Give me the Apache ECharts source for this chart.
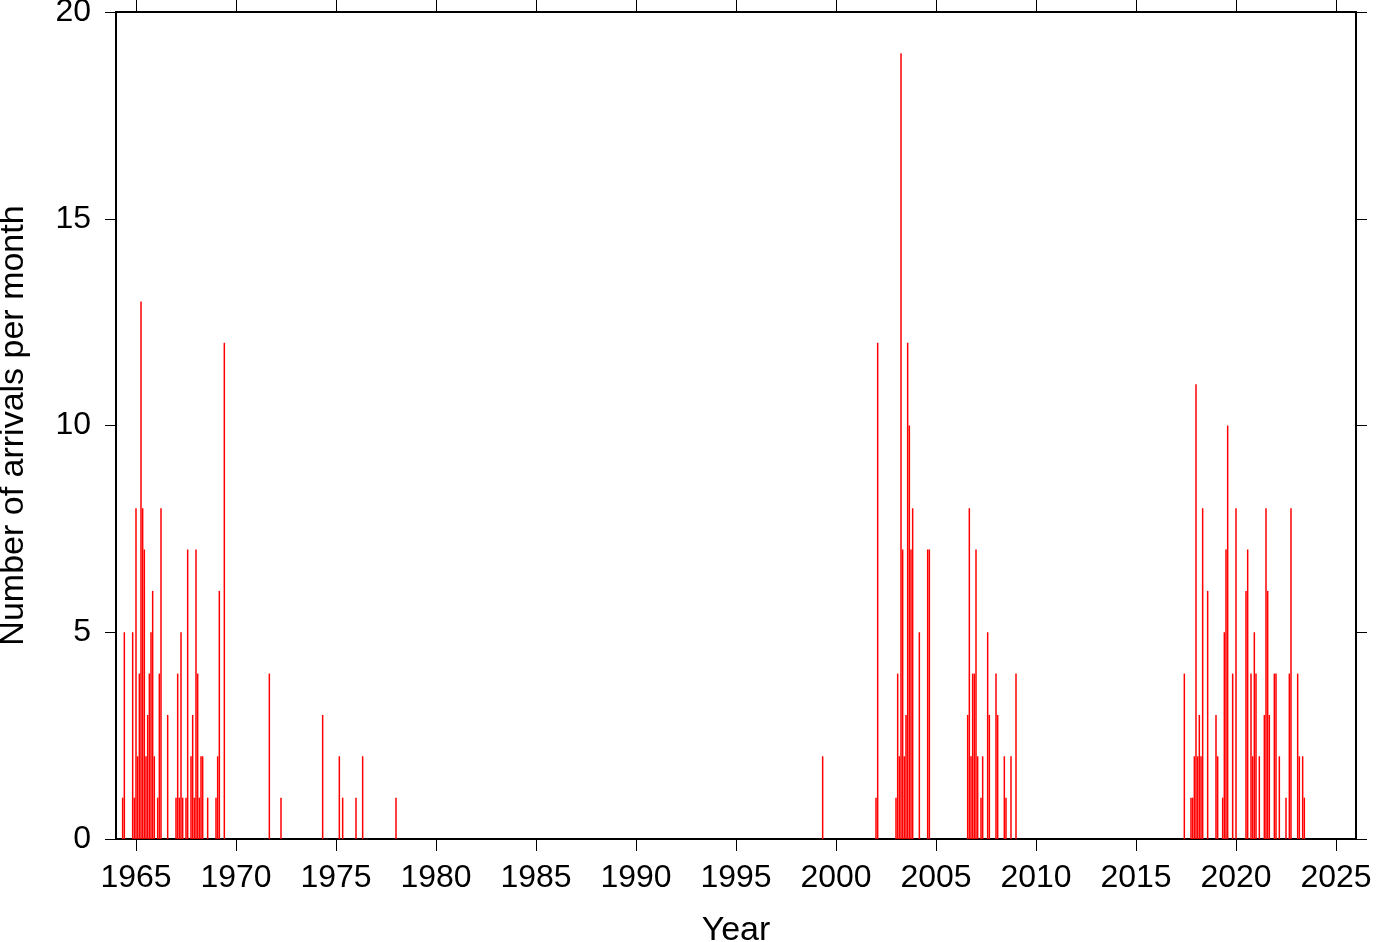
<!DOCTYPE html>
<html>
<head>
<meta charset="utf-8">
<script src="https://cdn.jsdelivr.net/npm/echarts@6/dist/echarts.min.js"></script>
<style>
html,body{margin:0;padding:0;background:#fff;}
#chart{width:1382px;height:942px;}
</style>
</head>
<body>
<div id="chart"></div>
<script>
// Month of arrivals (YYYY-MM) and number of arrivals in that month
const months = [
  "1964-05","1964-06","1964-11","1964-12","1965-01","1965-02","1965-03","1965-04","1965-05","1965-06",
  "1965-07","1965-08","1965-09","1965-10","1965-11","1965-12","1966-02","1966-03","1966-04","1966-08",
  "1967-01","1967-02","1967-03","1967-04","1967-05","1967-07","1967-08","1967-10","1967-11","1967-12",
  "1968-01","1968-02","1968-03","1968-04","1968-05","1968-08","1969-01","1969-02","1969-03","1969-06",
  "1971-09","1972-04","1974-05","1975-03","1975-05","1976-01","1976-05","1978-01",
  "1999-05",
  "2002-01","2002-02","2003-01","2003-02","2003-03","2003-04","2003-05","2003-06","2003-07","2003-08",
  "2003-09","2003-10","2003-11","2004-03","2004-08","2004-09",
  "2006-08","2006-09","2006-10","2006-11","2006-12","2007-01","2007-02","2007-04","2007-05","2007-08",
  "2007-09","2008-01","2008-02","2008-06","2008-07","2008-10","2009-01",
  "2017-06","2017-10","2017-11","2017-12","2018-01","2018-02","2018-03","2018-04","2018-05","2018-08",
  "2019-01","2019-02","2019-05","2019-06","2019-07","2019-08","2019-11","2020-01","2020-07","2020-08",
  "2020-10","2020-11","2020-12","2021-01","2021-03","2021-06","2021-07","2021-08","2021-09","2021-12",
  "2022-01","2022-03","2022-07","2022-09","2022-10","2023-02","2023-03","2023-05","2023-06"
];
const counts = [
  1,5,5,1,8,2,4,13,8,7,
  2,3,4,5,6,2,1,4,8,3,
  1,4,1,5,1,1,7,2,3,1,
  7,4,1,2,2,1,1,2,6,12,
  4,1,3,2,1,1,2,1,
  2,
  1,12,1,4,2,19,7,2,3,12,
  10,7,8,5,7,7,
  3,8,2,4,4,7,2,1,2,5,
  3,4,3,2,1,2,4,
  4,1,1,2,11,2,3,2,8,6,
  3,2,1,5,7,10,4,8,6,7,
  4,2,5,4,2,3,8,6,3,4,
  4,2,1,4,8,4,2,2,1
];
const yearTicks = [1965,1970,1975,1980,1985,1990,1995,2000,2005,2010,2015,2020,2025];
const xTitle = "Year";
const yTitle = "Number of arrivals per month";

const data = months.map((m, i) => {
  const [y, mo] = m.split("-").map(Number);
  return [y + (mo - 1) / 12, counts[i]];
});

const FONT = "'Liberation Sans', Arial, Helvetica, sans-serif";
const chart = echarts.init(document.getElementById('chart'), null, {renderer: 'canvas'});
const lineStyle = {color: '#000', width: 2};
const tickStyle = {color: '#000', width: 1};
const plain = v => String(v);
chart.setOption({
  animation: false,
  backgroundColor: '#fff',
  grid: {left: 116, right: 26, top: 12, bottom: 103, containLabel: false, outerBoundsMode: 'none'},
  xAxis: [{
    type: 'value', min: 1964, max: 2026, position: 'bottom',
    name: xTitle, nameLocation: 'middle', nameGap: 75,
    nameTextStyle: {fontFamily: FONT, fontSize: 34, color: '#000'},
    axisLine: {show: true, onZero: false, lineStyle: lineStyle},
    axisTick: {show: true, inside: false, length: 12, lineStyle: tickStyle, customValues: yearTicks},
    axisLabel: {show: true, fontFamily: FONT, fontSize: 32, color: '#000', margin: 23, customValues: yearTicks, formatter: plain},
    splitLine: {show: false}
  }, {
    type: 'value', min: 1964, max: 2026, position: 'top',
    axisLine: {show: true, onZero: false, lineStyle: lineStyle},
    axisTick: {show: true, inside: false, length: 12, lineStyle: tickStyle, customValues: yearTicks},
    axisLabel: {show: false},
    splitLine: {show: false}
  }],
  yAxis: [{
    type: 'value', min: 0, max: 20, interval: 5, position: 'left',
    name: yTitle, nameLocation: 'middle', nameGap: 85, nameRotate: 90,
    nameTextStyle: {fontFamily: FONT, fontSize: 34, color: '#000'},
    axisLine: {show: true, onZero: false, lineStyle: lineStyle},
    axisTick: {show: true, inside: false, length: 11, lineStyle: tickStyle},
    axisLabel: {show: true, fontFamily: FONT, fontSize: 32, color: '#000', margin: 25, formatter: plain},
    splitLine: {show: false}
  }, {
    type: 'value', min: 0, max: 20, interval: 5, position: 'right',
    axisLine: {show: true, onZero: false, lineStyle: lineStyle},
    axisTick: {show: true, inside: false, length: 11, lineStyle: tickStyle},
    axisLabel: {show: false},
    splitLine: {show: false}
  }],
  series: [{
    type: 'bar',
    xAxisIndex: 0, yAxisIndex: 0,
    data: data,
    barWidth: 1.5,
    itemStyle: {color: '#ff0000'},
    silent: true
  }]
});
</script>
</body>
</html>
